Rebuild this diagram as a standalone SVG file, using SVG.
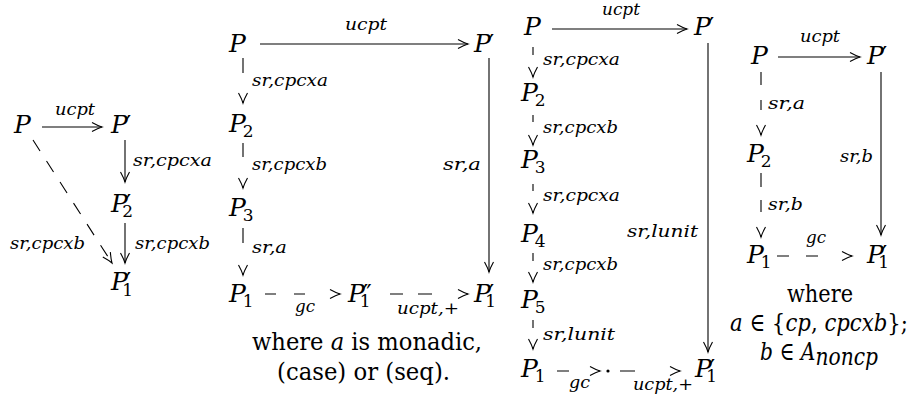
<svg xmlns="http://www.w3.org/2000/svg" width="912" height="399" viewBox="0 0 912 399">
<style>
text{font-family:"DejaVu Serif",serif;fill:#000}
.m{font-style:italic;font-size:25px}
.r{font-size:25px;font-style:normal}
.pr{font-style:normal;font-size:24px}
.sub{font-style:normal;font-size:17px}
.l{font-style:italic;font-size:16px}
.lr{font-style:normal}
.ah{stroke:#000;stroke-width:1.1;fill:none;marker-end:url(#ah)}
</style>
<defs>
<marker id="ah" markerUnits="userSpaceOnUse" viewBox="-11 -6 12 12" markerWidth="12" markerHeight="12" refX="0" refY="0" orient="auto" overflow="visible">
<path d="M-10,-4.5 Q-4,-1.2 0,0 Q-4,1.2 -10,4.5" stroke="#000" stroke-width="1.1" fill="none"/>
</marker>
</defs>

<!-- Diagram 1 -->
<g id="d1-P"><text class="m" x="14" y="133">P</text></g>
<g id="d1-Pp"><text class="m" x="111" y="133">P<tspan class="pr" dx="-2">′</tspan></text></g>
<g id="d1-P2p"><text class="m" x="111" y="212">P<tspan class="pr" dx="-2">′</tspan><tspan class="sub" dx="-9" dy="5">2</tspan></text></g>
<g id="d1-P1p"><text class="m" x="111" y="290">P<tspan class="pr" dx="-2">′</tspan><tspan class="sub" dx="-9" dy="6">1</tspan></text></g>

<!-- Diagram 2 -->
<g id="d2-P"><text class="m" x="229" y="52">P</text></g>
<g id="d2-Pp"><text class="m" x="474" y="52">P<tspan class="pr" dx="-2">′</tspan></text></g>
<g id="d2-P2"><text class="m" x="229" y="132">P<tspan class="sub" dx="-3" dy="5">2</tspan></text></g>
<g id="d2-P3"><text class="m" x="229" y="216">P<tspan class="sub" dx="-3" dy="5">3</tspan></text></g>
<g id="d2-P1"><text class="m" x="229" y="302">P<tspan class="sub" dx="-3" dy="5">1</tspan></text></g>
<g id="d2-P1pp"><text class="m" x="348" y="302">P<tspan class="pr" dx="-2">″</tspan><tspan class="sub" dx="-12" dy="5">1</tspan></text></g>
<g id="d2-P1p"><text class="m" x="474" y="302">P<tspan class="pr" dx="-2">′</tspan><tspan class="sub" dx="-9" dy="5">1</tspan></text></g>
<g id="d2-note">
<text class="r" x="252" y="350" textLength="230" lengthAdjust="spacingAndGlyphs">where <tspan class="m">a</tspan> is monadic,</text>
<text class="r" x="277" y="380" textLength="173" lengthAdjust="spacingAndGlyphs">(case) or (seq).</text>
</g>

<!-- Diagram 3 -->
<g id="d3-P"><text class="m" x="524" y="35">P</text></g>
<g id="d3-Pp"><text class="m" x="694" y="35">P<tspan class="pr" dx="-2">′</tspan></text></g>
<g id="d3-P2"><text class="m" x="521" y="101">P<tspan class="sub" dx="-3" dy="5">2</tspan></text></g>
<g id="d3-P3"><text class="m" x="521" y="168">P<tspan class="sub" dx="-3" dy="5">3</tspan></text></g>
<g id="d3-P4"><text class="m" x="521" y="242">P<tspan class="sub" dx="-3" dy="5">4</tspan></text></g>
<g id="d3-P5"><text class="m" x="521" y="308">P<tspan class="sub" dx="-3" dy="5">5</tspan></text></g>
<g id="d3-P1"><text class="m" x="521" y="377">P<tspan class="sub" dx="-3" dy="5">1</tspan></text></g>
<g id="d3-dot"><circle cx="608" cy="371" r="1.6" fill="#000"/></g>
<g id="d3-P1p"><text class="m" x="695" y="377">P<tspan class="pr" dx="-2">′</tspan><tspan class="sub" dx="-9" dy="5">1</tspan></text></g>

<!-- Diagram 4 -->
<g id="d4-P"><text class="m" x="751" y="64">P</text></g>
<g id="d4-Pp"><text class="m" x="867" y="64">P<tspan class="pr" dx="-2">′</tspan></text></g>
<g id="d4-P2"><text class="m" x="747" y="162">P<tspan class="sub" dx="-3" dy="5">2</tspan></text></g>
<g id="d4-P1"><text class="m" x="747" y="263">P<tspan class="sub" dx="-3" dy="5">1</tspan></text></g>
<g id="d4-P1p"><text class="m" x="867" y="263">P<tspan class="pr" dx="-2">′</tspan><tspan class="sub" dx="-9" dy="5">1</tspan></text></g>
<g id="d4-note">
<text class="r" x="787" y="302" textLength="66" lengthAdjust="spacingAndGlyphs">where</text>
<text class="r" x="730" y="331" textLength="178" lengthAdjust="spacingAndGlyphs"><tspan class="m">a</tspan> ∈ {<tspan class="m">cp</tspan>, <tspan class="m">cpcxb</tspan>};</text>
<text class="r" x="760" y="360" textLength="118" lengthAdjust="spacingAndGlyphs"><tspan class="m">b</tspan> ∈ <tspan class="m">A</tspan><tspan class="m" font-size="16" dy="5">noncp</tspan></text>
</g>

<g id="connectors">
<!-- D1 -->
<path class="ah" d="M42,127 H102"/>
<text class="l" x="55" y="115" textLength="40" lengthAdjust="spacingAndGlyphs">ucpt</text>
<path class="ah" d="M125,140 V182"/>
<text class="l" x="133" y="166" textLength="79" lengthAdjust="spacingAndGlyphs">sr,cpcxa</text>
<path class="ah" d="M125,223 V263"/>
<text class="l" x="135" y="249" textLength="75" lengthAdjust="spacingAndGlyphs">sr,cpcxb</text>
<path class="ah" d="M33,140 L112,263" stroke-dasharray="13,12"/>
<text class="l" x="10" y="249" textLength="75" lengthAdjust="spacingAndGlyphs">sr,cpcxb</text>

<!-- D2 -->
<path class="ah" d="M260,44 H468"/>
<text class="l" x="345" y="30" textLength="42" lengthAdjust="spacingAndGlyphs">ucpt</text>
<path class="ah" d="M489,58 V272"/>
<text class="l" x="443" y="170" textLength="38" lengthAdjust="spacingAndGlyphs">sr,a</text>
<path class="ah" d="M243,58 V73 M243,101 V103"/>
<text class="l" x="252" y="86" textLength="76" lengthAdjust="spacingAndGlyphs">sr,cpcxa</text>
<path class="ah" d="M243,143 V157 M243,186 V188"/>
<text class="l" x="252" y="170" textLength="75" lengthAdjust="spacingAndGlyphs">sr,cpcxb</text>
<path class="ah" d="M243,228 V243 M243,273 V275"/>
<text class="l" x="252" y="253" textLength="35" lengthAdjust="spacingAndGlyphs">sr,a</text>
<path class="ah" d="M265,294 H276 M294,294 H305 M338,294 H340"/>
<text class="l" x="295" y="312" textLength="20" lengthAdjust="spacingAndGlyphs">gc</text>
<path class="ah" d="M390,294 H403 M418,294 H432 M466,294 H468"/>
<text class="l" x="397" y="314" textLength="62" lengthAdjust="spacingAndGlyphs">ucpt,<tspan class="lr">+</tspan></text>

<!-- D3 -->
<path class="ah" d="M552,29 H687"/>
<text class="l" x="602" y="15" textLength="38" lengthAdjust="spacingAndGlyphs">ucpt</text>
<path class="ah" d="M708,43 V352"/>
<text class="l" x="627" y="237" textLength="71" lengthAdjust="spacingAndGlyphs">sr,lunit</text>
<path class="ah" d="M533,47 V55 M533,75 V77"/>
<text class="l" x="543" y="65" textLength="77" lengthAdjust="spacingAndGlyphs">sr,cpcxa</text>
<path class="ah" d="M533,115 V122 M533,143 V145"/>
<text class="l" x="543" y="133" textLength="75" lengthAdjust="spacingAndGlyphs">sr,cpcxb</text>
<path class="ah" d="M533,184 V191 M533,211 V213"/>
<text class="l" x="543" y="201" textLength="77" lengthAdjust="spacingAndGlyphs">sr,cpcxa</text>
<path class="ah" d="M533,253 V261 M533,280 V282"/>
<text class="l" x="543" y="270" textLength="75" lengthAdjust="spacingAndGlyphs">sr,cpcxb</text>
<path class="ah" d="M533,320 V328 M533,347 V349"/>
<text class="l" x="543" y="340" textLength="72" lengthAdjust="spacingAndGlyphs">sr,lunit</text>
<path class="ah" d="M557,371 H569 M598,371 H600"/>
<text class="l" x="569" y="388" textLength="21" lengthAdjust="spacingAndGlyphs">gc</text>
<path class="ah" d="M620,371 H635 M678,371 H680"/>
<text class="l" x="633" y="390" textLength="60" lengthAdjust="spacingAndGlyphs">ucpt,<tspan class="lr">+</tspan></text>

<!-- D4 -->
<path class="ah" d="M778,57 H860"/>
<text class="l" x="800" y="42" textLength="40" lengthAdjust="spacingAndGlyphs">ucpt</text>
<path class="ah" d="M881,72 V235"/>
<text class="l" x="840" y="162" textLength="33" lengthAdjust="spacingAndGlyphs">sr,b</text>
<path class="ah" d="M761,72 V85 M761,100 V110 M761,133 V135"/>
<text class="l" x="768" y="109" textLength="37" lengthAdjust="spacingAndGlyphs">sr,a</text>
<path class="ah" d="M761,173 V187 M761,200 V212 M761,235 V237"/>
<text class="l" x="768" y="210" textLength="35" lengthAdjust="spacingAndGlyphs">sr,b</text>
<path class="ah" d="M777,256 H789 M806,256 H818 M850,256 H852"/>
<text class="l" x="806" y="243" textLength="20" lengthAdjust="spacingAndGlyphs">gc</text>
</g>
</svg>
